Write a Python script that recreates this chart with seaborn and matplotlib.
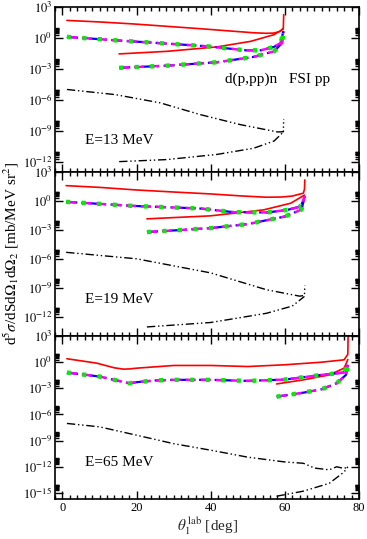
import numpy as np
import pandas as pd
import seaborn as sns
import matplotlib
matplotlib.use("Agg")
from matplotlib import pyplot as plt
from matplotlib.ticker import FixedLocator, FuncFormatter, MultipleLocator

# Angles in deg, cross sections given as log10 values

# E = 13 MeV
red_up_13_x = [1.2, 10, 19, 28, 37, 45, 51.6, 55, 57, 58.8, 59.6, 59.7]
red_up_13_y = [1.7, 1.55, 1.36, 1.13, 0.9, 0.68, 0.5, 0.45, 0.47, 0.64, 0.97, 2.26]
red_lo_13_x = [15.3, 28.2, 41.7, 50.8, 57.1, 59.6]
red_lo_13_y = [-1.55, -1.3, -0.87, -0.33, 0.32, 0.87]
grn_up_13_x = [1.2, 14.3, 28.2, 39, 49.4, 53.5, 57.1, 58.9, 59.6]
grn_up_13_y = [0.1, -0.23, -0.55, -0.81, -1.2, -1.2, -0.87, -0.48, 0.64]
grn_lo_13_x = [15.3, 28.2, 41.7, 51.6, 57.1, 59.3, 59.6]
grn_lo_13_y = [-2.9, -2.69, -2.36, -1.84, -1.3, -0.48, 0.64]
blk_up_13_x = [1.2, 14.3, 26.4, 37.2, 48, 58, 59.6, 59.7]
blk_up_13_y = [-5.0, -5.5, -6.3, -7.44, -8.41, -9.12, -9.1, -7.86]
blk_lo_13_x = [15.3, 28.2, 41.7, 51.6, 57.1, 59.4, 59.7]
blk_lo_13_y = [-12.0, -11.8, -11.3, -10.7, -10.0, -9.2, -9.0]

# E = 19 MeV
red_up_19_x = [1, 10, 20, 30, 40, 48, 55, 59, 62, 65, 65.3, 65.4]
red_up_19_y = [1.58, 1.4, 1.13, 0.92, 0.72, 0.52, 0.38, 0.4, 0.5, 0.8, 1.2, 2.17]
red_lo_19_x = [22.8, 39.9, 54.3, 61.6, 65.3]
red_lo_19_y = [-1.86, -1.55, -0.93, -0.24, 0.6]
grn_up_19_x = [1, 19.1, 37.2, 46.2, 55.3, 60.7, 64.3, 65.4]
grn_up_19_y = [-0.1, -0.52, -0.79, -1.17, -1.2, -0.93, -0.58, 0.5]
grn_lo_19_x = [22.8, 30, 40, 50, 60, 64.5, 65.4]
grn_lo_19_y = [-3.23, -3.06, -2.82, -2.4, -1.62, -0.9, 0.5]
blk_up_19_x = [1, 20, 40, 55, 64, 65.3, 65.4]
blk_up_19_y = [-5.33, -6.0, -7.46, -9.2, -9.87, -9.8, -8.76]
blk_lo_19_x = [22.8, 40, 55, 62, 65.3]
blk_lo_19_y = [-13.06, -12.6, -11.65, -10.9, -9.9]

# E = 65 MeV
red_up_65_x = [1.2, 9.2, 14, 16.4, 18, 20, 30, 40, 50, 60, 70, 76, 77, 77.1]
red_up_65_y = [0.39, -0.11, -0.65, -0.8, -0.78, -0.69, -0.38, -0.38, -0.5, -0.3, 0, 0.27, 0.9, 3.5]
red_lo_65_x = [57.8, 65, 72, 76, 77]
red_lo_65_y = [-2.5, -2.03, -1.46, -0.69, 0.3]
grn_up_65_x = [1.2, 10, 18, 20, 25, 30, 40, 50, 60, 70, 76, 77]
grn_up_65_y = [-1.19, -1.65, -2.42, -2.3, -2.1, -2.03, -2.03, -2.15, -2.0, -1.46, -1.19, -0.3]
grn_lo_65_x = [57.8, 65, 70, 74, 76.5, 77]
grn_lo_65_y = [-3.96, -3.5, -3.1, -2.42, -1.46, -0.3]
blk_up_65_x = [1.2, 10, 20, 30, 40, 50, 60, 65, 68, 72, 74, 76, 77]
blk_up_65_y = [-7.03, -7.42, -8.38, -9.35, -10.1, -10.9, -11.45, -11.6, -12.15, -12.35, -12.0, -12.2, -12.0]
blk_lo_65_x = [57.8, 65, 72, 76, 77]
blk_lo_65_y = [-15.38, -14.8, -13.9, -12.6, -12.0]

energies = ["E=13 MeV", "E=19 MeV", "E=65 MeV"]
ylims_log = [(-13, 3), (-14, 3), (-15.7, 3)]

panels = [
    dict(red=[(red_up_13_x, red_up_13_y), (red_lo_13_x, red_lo_13_y)],
         grn=[(grn_up_13_x, grn_up_13_y), (grn_lo_13_x, grn_lo_13_y)],
         blk=[(blk_up_13_x, blk_up_13_y), (blk_lo_13_x, blk_lo_13_y)]),
    dict(red=[(red_up_19_x, red_up_19_y), (red_lo_19_x, red_lo_19_y)],
         grn=[(grn_up_19_x, grn_up_19_y), (grn_lo_19_x, grn_lo_19_y)],
         blk=[(blk_up_19_x, blk_up_19_y), (blk_lo_19_x, blk_lo_19_y)]),
    dict(red=[(red_up_65_x, red_up_65_y), (red_lo_65_x, red_lo_65_y)],
         grn=[(grn_up_65_x, grn_up_65_y), (grn_lo_65_x, grn_lo_65_y)],
         blk=[(blk_up_65_x, blk_up_65_y), (blk_lo_65_x, blk_lo_65_y)]),
]

sns.set_style("ticks", {'axes.edgecolor': 'black', 'xtick.color': 'black',
                        'ytick.color': 'black', 'text.color': 'black'})
plt.rcParams['font.family'] = ['Liberation Serif', 'DejaVu Serif']
plt.rcParams['mathtext.fontset'] = 'stix'

fig = plt.figure(figsize=(3.67, 5.39), dpi=100)
boxes = [(0.150, 0.681, 0.828, 0.306),
         (0.150, 0.3766, 0.828, 0.3044),
         (0.150, 0.0742, 0.828, 0.3024)]


def line(ax, xs, ys, **kw):
    d = pd.DataFrame({'x': xs, 'y': 10.0 ** np.array(ys)})
    sns.lineplot(data=d, x='x', y='y', sort=False, estimator=None, ax=ax, **kw)


for i, (box, p) in enumerate(zip(boxes, panels)):
    ax = fig.add_axes(box)
    for xs, ys in p['blk']:
        line(ax, xs, ys, color='black', lw=1.0, linestyle=(0, (6, 2, 1, 2, 1, 2)))
    for xs, ys in p['red']:
        line(ax, xs, ys, color='#ff0000', lw=1.2)
    for xs, ys in p['grn']:
        line(ax, xs, ys, color='#0000ff', lw=1.6, linestyle=(0, (5, 2, 1, 2)))
        line(ax, xs, ys, color='#ff00ff', lw=1.8, linestyle=(0, (4, 2)))
        line(ax, xs, ys, color='#00ee00', lw=3.2, linestyle=(0, (0.9, 2.6)))

    ax.set_yscale('log')
    lo, hi = ylims_log[i]
    ax.set_ylim(10.0 ** lo, 10.0 ** hi)
    ax.set_xlim(-2, 80)
    majors = [10.0 ** e for e in range(3, int(np.ceil(lo)) - 1, -3) if e >= lo]
    ax.yaxis.set_major_locator(FixedLocator(majors))
    ax.yaxis.set_minor_locator(FixedLocator([k * m for m in majors for k in range(2, 10)]))
    ax.yaxis.set_major_formatter(FuncFormatter(lambda v, pos: r'$10^{%d}$' % round(np.log10(v))))
    ax.xaxis.set_major_locator(MultipleLocator(20))
    ax.xaxis.set_minor_locator(MultipleLocator(2))
    ax.tick_params(which='both', direction='in', top=True, right=True, labelsize=9, pad=2,
                   colors='black')
    ax.tick_params(which='major', length=6, width=1)
    ax.tick_params(which='minor', length=3, width=1)
    for s in ax.spines.values():
        s.set_linewidth(1.2)
        s.set_color('black')
    ax.set_xlabel('')
    ax.set_ylabel('')
    if i < 2:
        ax.set_xticklabels([])
    else:
        ax.set_xlabel(r'$\theta_1^{\,\mathrm{lab}}$ [deg]', fontsize=11, labelpad=1)
    ax.text(0.10, 0.17 if i == 0 else 0.2, energies[i], transform=ax.transAxes, fontsize=11)
    if i == 0:
        ax.text(0.56, 0.54, 'd(p,pp)n   FSI pp', transform=ax.transAxes, fontsize=11)

fig.text(0.03, 0.53, r'd$^5\sigma$/dSd$\Omega_1$d$\Omega_2$ [mb/MeV sr$^2$]',
         rotation=90, va='center', ha='center', fontsize=11)

fig.savefig('out.png', dpi=100)
